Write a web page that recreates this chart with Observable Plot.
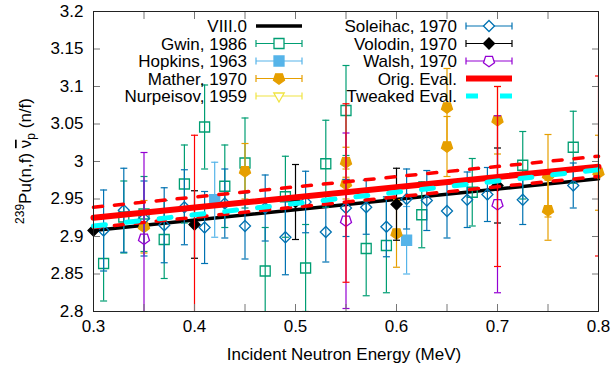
<!DOCTYPE html>
<html><head><meta charset="utf-8">
<script src="https://cdn.jsdelivr.net/npm/d3@7"></script>
<script src="https://cdn.jsdelivr.net/npm/@observablehq/plot@0.6"></script>
<style>
body{margin:0;background:#fff}
svg{font-family:"Liberation Sans",Arial,sans-serif}
</style>
</head><body><div id="chart"></div>
<script>
// ---------- data ----------
const xTickLabels = [0.3, 0.4, 0.5, 0.6, 0.7, 0.8];
const xTickMarks = [0.3, 0.35, 0.4, 0.45, 0.5, 0.55, 0.6, 0.65, 0.7, 0.75, 0.8];
const yTickLabels = [2.8, 2.85, 2.9, 2.95, 3, 3.05, 3.1, 3.15, 3.2];

const seriesNames = ["VIII.0", "Gwin, 1986", "Hopkins, 1963", "Mather, 1970", "Nurpeisov, 1959",
                     "Soleihac, 1970", "Volodin, 1970", "Walsh, 1970", "Orig. Eval.", "Tweaked Eval."];

// evaluation lines (endpoints at 0.3 and 0.8 MeV)
const lineE = [0.3, 0.8];
const viii = [2.908, 2.977];
const origEval = [2.925, 2.993];
const origUpper = [2.939, 3.007];
const origLower = [2.912, 2.980];
const tweakedEval = [2.914, 2.989];

// Orig. Eval. uncertainty bars
const origErrE = [0.4, 0.55, 0.7, 0.8];
const origErrLo = [2.78, 2.839, 2.86, 2.874];
const origErrHi = [3.035, 3.077, 3.10, 3.114];

// Gwin, 1986
const gwinE = [0.31, 0.33, 0.35, 0.37, 0.39, 0.41, 0.43, 0.45, 0.47, 0.49, 0.51, 0.53, 0.55, 0.57, 0.59, 0.625, 0.675, 0.725, 0.775];
const gwinV = [2.864, 2.926, 2.930, 2.896, 2.970, 3.046, 2.967, 2.998, 2.854, 2.953, 2.858, 2.997, 3.068, 2.884, 2.888, 2.929, 2.959, 2.995, 3.019];
const gwinErr = [0.05, 0.048, 0.05, 0.052, 0.052, 0.056, 0.055, 0.06, 0.058, 0.054, 0.058, 0.058, 0.06, 0.063, 0.063, 0.044, 0.045, 0.045, 0.048];

// Hopkins, 1963
const hopE = [0.42, 0.61];
const hopV = [2.949, 2.895];
const hopErr = [0.05, 0.045];

// Mather, 1970
const matE = [0.35, 0.45, 0.55, 0.55, 0.60, 0.65, 0.65, 0.70, 0.75, 0.75, 0.80];
const matV = [2.913, 2.987, 2.999, 2.970, 2.904, 3.072, 3.020, 3.055, 2.981, 2.935, 2.985];
const matErr = [0.035, 0.037, 0.02, 0.02, 0.045, 0.052, 0.04, 0.045, 0.055, 0.04, 0.05];

// Nurpeisov, 1959 (no points visible in range)
const nurE = [];
const nurV = [];
const nurErr = [];

// Soleihac, 1970
const solE = [0.31, 0.33, 0.35, 0.37, 0.39, 0.41, 0.43, 0.45, 0.47, 0.49, 0.51, 0.53, 0.55, 0.57, 0.59, 0.61, 0.63, 0.65, 0.67, 0.69, 0.725, 0.775];
const solV = [2.908, 2.935, 2.924, 2.915, 2.939, 2.912, 2.944, 2.914, 2.938, 2.899, 2.946, 2.906, 2.938, 2.939, 2.913, 2.950, 2.948, 2.934, 2.949, 2.956, 2.949, 2.968];
const solErr = [0.054, 0.056, 0.05, 0.05, 0.05, 0.048, 0.046, 0.044, 0.044, 0.05, 0.041, 0.04, 0.038, 0.036, 0.04, 0.04, 0.04, 0.036, 0.037, 0.036, 0.033, 0.03];

// Volodin, 1970
const volE = [0.3, 0.4, 0.5, 0.6, 0.7];
const volV = [2.908, 2.916, 2.946, 2.943, 2.968];
const volErr = [0, 0.045, 0.05, 0.048, 0.05];

// Walsh, 1970
const walE = [0.35, 0.55, 0.70];
const walV = [2.897, 2.921, 2.943];
const walErr = [0.115, 0.117, 0.118];

// ---------- styling ----------
const C = {
  viii: "#000000", gwin: "#009e73", hop: "#56b4e9", mat: "#e69f00", nur: "#f0e442",
  sol: "#0072b2", vol: "#000000", wal: "#9400d3", orig: "#ff0000", tw: "#00ffff"
};
const FONT = "Liberation Sans, Arial, sans-serif";

const rad = s => Math.sqrt(s / Math.PI);
const symSquare = {draw(c, s) { const r = rad(s); c.rect(-r, -r, 2 * r, 2 * r); }};
const symDiamond = {draw(c, s) { const r = rad(s); c.moveTo(0, -r); c.lineTo(r, 0); c.lineTo(0, r); c.lineTo(-r, 0); c.closePath(); }};
const symPent = {draw(c, s) { const r = rad(s);
  for (let k = 0; k < 5; k++) { const a = Math.PI / 2 + k * 2 * Math.PI / 5; const px = r * Math.cos(a), py = r * Math.sin(a); k ? c.lineTo(px, py) : c.moveTo(px, py); }
  c.closePath(); }};
const symTriDown = {draw(c, s) { const r = rad(s);
  c.moveTo(0, r); c.lineTo(r * 0.87, -r * 0.5); c.lineTo(-r * 0.87, -r * 0.5); c.closePath(); }};
const symCap = {draw(c, s) { const r = rad(s); c.moveTo(-r, 0); c.lineTo(r, 0); }};

function errMarks(E, V, Err, color, sym, r, filled) {
  const data = E.map((e, i) => ({e, v: V[i], err: Err[i]}));
  const bars = data.filter(d => d.err > 0);
  return [
    Plot.ruleX(bars, {x: "e", y1: d => d.v - d.err, y2: d => d.v + d.err, stroke: color, strokeWidth: 1.2, clip: true}),
    Plot.dot(bars, {x: "e", y: d => d.v - d.err, symbol: symCap, r: 3.5, stroke: color, strokeWidth: 1.2, fill: "none", clip: true}),
    Plot.dot(bars, {x: "e", y: d => d.v + d.err, symbol: symCap, r: 3.5, stroke: color, strokeWidth: 1.2, fill: "none", clip: true}),
    Plot.dot(data, {x: "e", y: "v", symbol: sym, r, stroke: color, strokeWidth: 1.3, fill: filled ? color : "none"})
  ];
}

const lineData = arr => lineE.map((e, i) => ({e, v: arr[i]}));
const origErrData = origErrE.map((e, i) => ({e, lo: origErrLo[i], hi: origErrHi[i]}));

const chart = Plot.plot({
  width: 615, height: 368,
  marginLeft: 93, marginRight: 17, marginTop: 11, marginBottom: 57,
  x: {domain: [0.3, 0.8]},
  y: {domain: [2.8, 3.2]},
  style: {fontFamily: FONT, fontSize: "17px", background: "white", color: "#000"},
  marks: [
    Plot.line(lineData(viii), {x: "e", y: "v", stroke: C.viii, strokeWidth: 3.5}),
    ...errMarks(gwinE, gwinV, gwinErr, C.gwin, symSquare, 5, false),
    ...errMarks(hopE, hopV, hopErr, C.hop, symSquare, 5, true),
    ...errMarks(matE, matV, matErr, C.mat, symPent, 5.8, true),
    ...errMarks(nurE, nurV, nurErr, C.nur, symTriDown, 6, false),
    ...errMarks(solE, solV, solErr, C.sol, symDiamond, 5.5, false),
    ...errMarks(volE, volV, volErr, C.vol, symDiamond, 5.5, true),
    ...errMarks(walE, walV, walErr, C.wal, symPent, 5.8, false),
    Plot.ruleX(origErrData, {x: "e", y1: "lo", y2: "hi", stroke: C.orig, strokeWidth: 1.2, clip: true}),
    Plot.dot(origErrData, {x: "e", y: "lo", symbol: symCap, r: 3.5, stroke: C.orig, strokeWidth: 1.2, clip: true}),
    Plot.dot(origErrData, {x: "e", y: "hi", symbol: symCap, r: 3.5, stroke: C.orig, strokeWidth: 1.2, clip: true}),
    Plot.line(lineData(origEval), {x: "e", y: "v", stroke: C.orig, strokeWidth: 6}),
    Plot.line(lineData(origUpper), {x: "e", y: "v", stroke: C.orig, strokeWidth: 3.5, strokeDasharray: "9,12"}),
    Plot.line(lineData(origLower), {x: "e", y: "v", stroke: C.orig, strokeWidth: 3.5, strokeDasharray: "9,12"}),
    Plot.line(lineData(tweakedEval), {x: "e", y: "v", stroke: C.tw, strokeWidth: 5, strokeDasharray: "12,21"}),
    // axes: labels
    Plot.axisX(xTickLabels, {anchor: "bottom", tickSize: 0, tickPadding: 8, label: null, fontSize: 17, tickFormat: d => String(d)}),
    Plot.axisY(yTickLabels, {anchor: "left", tickSize: 0, tickPadding: 10, label: null, fontSize: 17, tickFormat: d => String(d)}),
    // inward ticks
    Plot.axisX(xTickMarks, {anchor: "bottom", tickSize: 7, dy: -7, label: null, tickFormat: () => "", stroke: "#777"}),
    Plot.axisX(xTickMarks, {anchor: "top", tickSize: 7, dy: 7, label: null, tickFormat: () => "", stroke: "#777"}),
    Plot.axisY(yTickLabels, {anchor: "left", tickSize: 7, dx: 7, label: null, tickFormat: () => "", stroke: "#777"}),
    Plot.axisY(yTickLabels, {anchor: "right", tickSize: 7, dx: -7, label: null, tickFormat: () => "", stroke: "#777"}),
    Plot.frame({stroke: "#222", strokeWidth: 1})
  ]
});

document.getElementById("chart").appendChild(chart);

// ---------- axis titles & legend ----------
const svg = d3.select(chart);

svg.append("text")
  .attr("x", 344).attr("y", 360)
  .attr("text-anchor", "middle").attr("font-size", 17).attr("font-family", FONT).attr("fill", "#000")
  .text("Incident Neutron Energy (MeV)");

const yl = svg.append("text")
  .attr("transform", "translate(31,161) rotate(-90)")
  .attr("text-anchor", "middle").attr("font-size", 17).attr("font-family", FONT).attr("fill", "#000");
yl.append("tspan").attr("font-size", 12).attr("dy", -7).text("239");
yl.append("tspan").attr("dy", 7).text("Pu(n,f) ");
yl.append("tspan").attr("style", "text-decoration: overline").text("\u03BD");
yl.append("tspan").attr("font-size", 12).attr("dy", 4).text("p");
yl.append("tspan").attr("dy", -4).text(" (n/f)");

const legendSpec = [
  {type: "line", color: C.viii, w: 3.5},
  {type: "err", color: C.gwin, sym: symSquare, r: 5, filled: false},
  {type: "err", color: C.hop, sym: symSquare, r: 5, filled: true},
  {type: "err", color: C.mat, sym: symPent, r: 5.8, filled: true},
  {type: "err", color: C.nur, sym: symTriDown, r: 6, filled: false},
  {type: "err", color: C.sol, sym: symDiamond, r: 5.5, filled: false},
  {type: "err", color: C.vol, sym: symDiamond, r: 5.5, filled: true},
  {type: "err", color: C.wal, sym: symPent, r: 5.8, filled: false},
  {type: "line", color: C.orig, w: 6},
  {type: "line", color: C.tw, w: 5, dash: "12,22"}
];
const rowY = [26, 43.5, 61, 78.5, 96];
const cols = [{textX: 247, x1: 256, x2: 302}, {textX: 457, x1: 466, x2: 512}];
const lg = svg.append("g").attr("font-family", FONT).attr("font-size", 17);
seriesNames.forEach((name, i) => {
  const col = cols[Math.floor(i / 5)], y = rowY[i % 5], s = legendSpec[i];
  lg.append("text").attr("x", col.textX).attr("y", y).attr("dy", "0.36em")
    .attr("text-anchor", "end").attr("fill", "#000").text(name);
  if (s.type === "line") {
    lg.append("line").attr("x1", col.x1).attr("x2", col.x2).attr("y1", y).attr("y2", y)
      .attr("stroke", s.color).attr("stroke-width", s.w).attr("stroke-dasharray", s.dash || null);
  } else {
    lg.append("line").attr("x1", col.x1).attr("x2", col.x2).attr("y1", y).attr("y2", y)
      .attr("stroke", s.color).attr("stroke-width", 1.2);
    [col.x1, col.x2].forEach(x => lg.append("line").attr("x1", x).attr("x2", x)
      .attr("y1", y - 3.5).attr("y2", y + 3.5).attr("stroke", s.color).attr("stroke-width", 1.2));
    const mx = (col.x1 + col.x2) / 2;
    lg.append("path").attr("transform", `translate(${mx},${y})`)
      .attr("d", d3.symbol().type(s.sym).size(s.r * s.r * Math.PI)())
      .attr("stroke", s.color).attr("stroke-width", 1.3).attr("fill", s.filled ? s.color : "#fff");
  }
});
</script>
</body></html>
